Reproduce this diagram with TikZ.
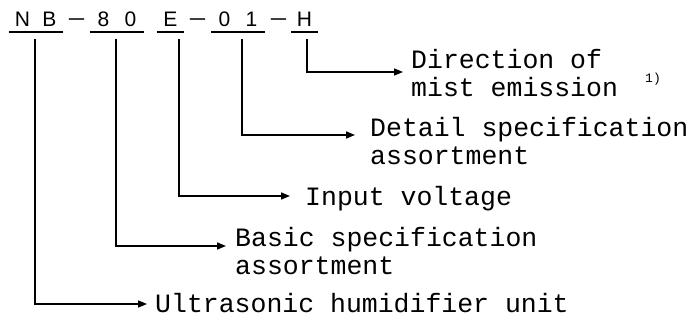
\documentclass[tikz,border=0pt]{standalone}
\usepackage{fontspec}
\newfontfamily\codefont{Liberation Sans}
\newfontfamily\descfont{Liberation Mono}
\usetikzlibrary{arrows.meta}
\newcommand\codecell[1]{\makebox[27pt]{#1}}

\begin{document}
\begin{tikzpicture}[x=1pt, y=-1pt,
  code/.style={font=\codefont\fontsize{21}{21}\selectfont, inner sep=0pt, text height=15pt, text depth=5pt, anchor=base},
  hyph/.style={font=\codefont\fontsize{21}{21}\selectfont, inner sep=0pt, anchor=base},
  uline/.style={line width=1.8pt},
  lead/.style={line width=1.6pt, -{Triangle[length=9pt,width=7pt]}},
  lbl/.style={font=\descfont\fontsize{26.5}{28}\selectfont, inner sep=0pt, align=left, anchor=base west},
  fn/.style={font=\descfont\fontsize{13}{13}\selectfont, inner sep=0pt, anchor=base west},
]
\useasboundingbox (0,0) rectangle (692,320);
% type code
\node[code] (nb) at (36,27) {\codecell{N}\codecell{B}};
\node[hyph] (h1) at (76.5,27) {\scalebox{1.5}[1]{−}};
\node[code] (eighty) at (117,27) {\codecell{8}\codecell{0}};
\node[code] (volt) at (170.5,27) {\codecell{E}};
\node[hyph] (h2) at (197.5,27) {\scalebox{1.5}[1]{−}};
\node[code] (detail) at (238,27) {\codecell{0}\codecell{1}};
\node[hyph] (h3) at (278.5,27) {\scalebox{1.5}[1]{−}};
\node[code] (dir) at (304.5,27) {\codecell{H}};
\foreach \n in {nb,eighty,volt,detail,dir}
  \draw[uline] (\n.south west) -- (\n.south east);
% meanings (base = last line)
\node[lbl] (dirtxt) at (411,97) {Direction of\\mist emission};
\node[fn] (note) at (645,83) {1)};
\node[lbl] (dettxt) at (370,165) {Detail specification\\assortment};
\node[lbl] (volttxt) at (305,205) {Input voltage};
\node[lbl] (basictxt) at (235,274) {Basic specification\\assortment};
\node[lbl] (unittxt) at (155,312) {Ultrasonic humidifier unit};
% leaders
\draw[lead, shorten >=8pt] ([xshift=2.5pt,yshift=-7pt]dir.south) |- ([yshift=25pt]dirtxt.base west);
\draw[lead, shorten >=15pt] ([xshift=4pt,yshift=-7pt]detail.south) |- ([yshift=30pt]dettxt.base west);
\draw[lead, shorten >=15pt] ([xshift=8.5pt,yshift=-7pt]volt.south) |- ([yshift=9pt]volttxt.base west);
\draw[lead, shorten >=9pt] ([xshift=-1pt,yshift=-7pt]eighty.south) |- ([yshift=28pt]basictxt.base west);
\draw[lead, shorten >=8pt] ([xshift=-1pt,yshift=-7pt]nb.south) |- ([yshift=8pt]unittxt.base west);
\end{tikzpicture}
\end{document}
